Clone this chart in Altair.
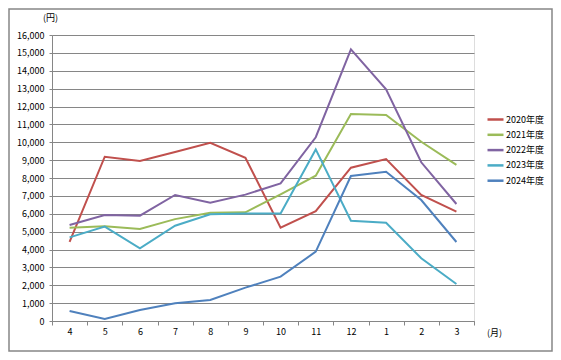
import altair as alt
import pandas as pd

months = ["4", "5", "6", "7", "8", "9", "10", "11", "12", "1", "2", "3"]
series = ["2020年度", "2021年度", "2022年度", "2023年度", "2024年度"]
colors = ["#C0504D", "#9BBB59", "#8064A2", "#4BACC6", "#4F81BD"]

v2020 = [4430, 9190, 8950, 9450, 9970, 9135, 5220, 6150, 8575, 9060, 7050, 6115]
v2021 = [5220, 5300, 5150, 5700, 6050, 6080, 7090, 8130, 11580, 11525, 10030, 8730]
v2022 = [5370, 5930, 5890, 7050, 6620, 7070, 7700, 10280, 15200, 12960, 8880, 6545]
v2023 = [4680, 5280, 4070, 5330, 5970, 6020, 6020, 9600, 5610, 5500, 3510, 2070]
v2024 = [560, 110, 615, 990, 1175, 1865, 2480, 3880, 8110, 8350, 6770, 4420]

rows = []
for name, vals in zip(series, [v2020, v2021, v2022, v2023, v2024]):
    for m, v in zip(months, vals):
        rows.append({"month": m, "series": name, "value": v})
df = pd.DataFrame(rows)

FONT = "Noto Sans CJK JP"
W, H = 422, 286

lines = alt.Chart(df).mark_line(strokeWidth=2).encode(
    x=alt.X("month:N", sort=months, scale=alt.Scale(paddingInner=0, paddingOuter=0),
            axis=alt.Axis(title="(月)", titleAngle=0, titleX=442, titleY=11,
                          titleAlign="center", titleBaseline="middle",
                          titleFontWeight="normal", titleFontSize=9, titleFont=FONT,
                          labelAngle=0, labelFontSize=9, labelFont=FONT, labelColor="#000",
                          tickBand="extent", tickSize=4, tickColor="#868686",
                          domainColor="#868686", grid=False, labelPadding=2)),
    y=alt.Y("value:Q", scale=alt.Scale(domain=[0, 16000], nice=False),
            axis=alt.Axis(title="(円)", titleAngle=0, titleX=-2, titleY=-18,
                          titleAlign="center", titleBaseline="middle",
                          titleFontWeight="normal", titleFontSize=9, titleFont=FONT,
                          values=list(range(0, 16001, 1000)), format=",.0f",
                          labelFontSize=9, labelFont=FONT, labelColor="#000",
                          tickSize=3, tickColor="#868686", domainColor="#868686",
                          gridColor="#868686", gridWidth=1, labelPadding=5)),
    color=alt.Color("series:N", sort=series,
                    scale=alt.Scale(domain=series, range=colors),
                    legend=alt.Legend(title=None, orient="none", legendX=434, legendY=75,
                                      symbolType="stroke", symbolSize=256, symbolStrokeWidth=2.5,
                                      labelFontSize=9, labelFont=FONT, labelColor="#000",
                                      labelOffset=1, rowPadding=0.3)),
)

frame = alt.Chart(pd.DataFrame({"a": [0]})).mark_rect(
    fill=None, stroke="#868686", strokeWidth=1.5
).encode(
    x=alt.value(-43), x2=alt.value(W + 78), y=alt.value(-26), y2=alt.value(H + 30)
)

chart = alt.layer(lines, frame).properties(
    width=W, height=H,
    padding={"left": 44, "top": 27, "right": 79, "bottom": 31},
    autosize=alt.AutoSizeParams(type="none"),
).configure_view(stroke=None).configure(background="white")

chart.save("out.html", embed_options={"renderer": "svg", "actions": False})
